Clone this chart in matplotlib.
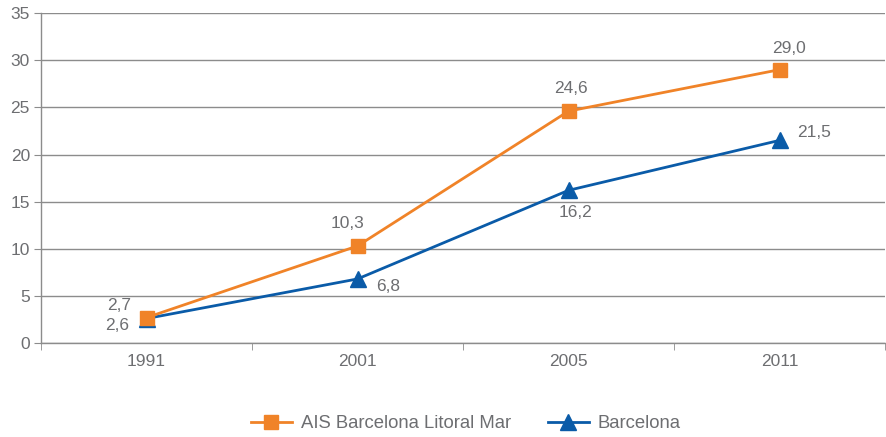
import numpy as np
import matplotlib.pyplot as plt

# --- Data ---
years = ['1991', '2001', '2005', '2011']
ais = [2.7, 10.3, 24.6, 29.0]
bcn = [2.6, 6.8, 16.2, 21.5]
ais_label = 'AIS Barcelona Litoral Mar'
bcn_label = 'Barcelona'

orange = '#F08328'
blue = '#0A5BA8'
grey_txt = '#6d6e71'
grey_line = '#8c8c8c'
fs = 12.5

plt.rcParams['font.family'] = ['Liberation Sans', 'DejaVu Sans']

fig = plt.figure(figsize=(8.86, 4.37), dpi=100)
ax = fig.add_axes([0.0463, 0.215, 0.9526, 0.755])

x = np.arange(len(years))
ax.plot(x, bcn, color=blue, lw=2, marker='^', ms=12, label=bcn_label, zorder=3)
ax.plot(x, ais, color=orange, lw=2, marker='s', ms=9.5, label=ais_label, zorder=4)

def fmt(v):
    return f"{v:.1f}".replace('.', ',')

# value labels: centre offsets in points
ais_off = [(-19.5, 9), (-7, 16.5), (2, 16), (7, 15.5)]
bcn_off = [(-21, -4.7), (22, -5.8), (5, -16), (25, 6)]
for i in range(len(years)):
    ax.annotate(fmt(ais[i]), (x[i], ais[i]), xytext=ais_off[i], textcoords='offset points',
                ha='center', va='center', fontsize=fs, color=grey_txt)
    ax.annotate(fmt(bcn[i]), (x[i], bcn[i]), xytext=bcn_off[i], textcoords='offset points',
                ha='center', va='center', fontsize=fs, color=grey_txt)

ax.set_xlim(-0.5, len(years) - 0.5)
ax.set_ylim(0, 35)
ax.set_yticks(np.arange(0, 36, 5))
ax.set_xticks(x)
ax.set_xticklabels(years)
ax.set_xticks(np.arange(-0.5, len(years), 1), minor=True)
ax.tick_params(axis='x', which='major', length=0, pad=8, labelsize=fs, labelcolor=grey_txt)
ax.tick_params(axis='x', which='minor', length=5, color=grey_line, direction='out')
ax.tick_params(axis='y', length=5, color=grey_line, labelsize=fs, labelcolor=grey_txt, pad=3)

ax.grid(axis='y', color=grey_line, lw=1)
ax.set_axisbelow(True)
for s in ['top', 'right']:
    ax.spines[s].set_visible(False)
for s in ['left', 'bottom']:
    ax.spines[s].set_color(grey_line)
    ax.spines[s].set_linewidth(1)

handles, labels = ax.get_legend_handles_labels()
leg = fig.legend(handles[::-1], labels[::-1], loc='center', bbox_to_anchor=(0.526, 0.03),
                 ncol=2, frameon=False, fontsize=13.3, handlelength=2.2, handletextpad=0.5,
                 columnspacing=2.0)
for t in leg.get_texts():
    t.set_color(grey_txt)

fig.savefig('out.png', dpi=100)
